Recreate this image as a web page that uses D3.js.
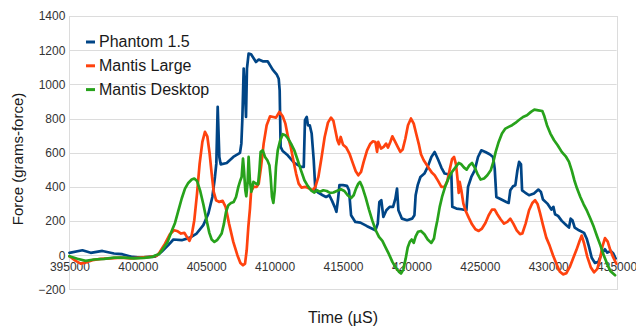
<!DOCTYPE html>
<html>
<head>
<meta charset="utf-8">
<script src="https://cdn.jsdelivr.net/npm/d3@7"></script>
<style>
  body { margin: 0; background: #fff; }
  svg { display: block; font-family: "Liberation Sans", Arial, sans-serif; }
</style>
</head>
<body>
<div id="rootDiv"></div>
<script>
// time (uS), force (grams-force)
const phantom = [
  [395000,14],[395950,29],[396560,14],[397410,25],[398260,10],[398870,6],[399600,-10],[400210,-14],[400820,-10],[401260,-8],
  [401550,8],[401740,20],[402230,59],[402600,92],[403210,88],[403820,103],[404300,127],[404790,176],[405160,244],[405450,341],
  [405640,458],[405740,536],[405840,868],[405960,575],[406060,532],[406500,540],[406980,575],[407470,599],[407570,653],[407640,790],
  [407740,1092],[407840,946],[407910,809],[407980,1092],[408100,1180],[408280,1176],[408640,1131],[408840,1145],[409130,1135],[409490,1135],
  [409860,1086],[410150,1059],[410300,1033],[410370,965],[410440,634],[410590,610],[410960,585],[411440,540],[411930,517],[412130,517],
  [412220,790],[412350,809],[412440,760],[412570,760],[412710,712],[412860,556],[412980,380],[413220,365],[413520,351],[413760,341],
  [414000,351],[414200,318],[414390,283],[414520,254],[414640,330],[414740,410],[415000,410],[415290,406],[415440,380],[415590,234],
  [415900,195],[416270,191],[416760,170],[417370,146],[417540,185],[417660,312],[417800,322],[417950,224],[418170,263],[418410,283],
  [418660,283],[418830,331],[418950,390],[419050,263],[419310,214],[419680,205],[420050,214],[420220,234],[420310,351],[420460,410],
  [420660,458],[420950,478],[421190,517],[421460,575],[421700,604],[421950,560],[422190,513],[422430,478],[422680,474],[422920,478],
  [422990,283],[423290,273],[423650,269],[424020,263],[424140,400],[424380,458],[424630,497],[424870,575],[425110,614],[425410,604],
  [425720,591],[425970,575],[426090,507],[426210,341],[426580,326],[426940,312],[427110,306],[427230,380],[427430,404],[427600,410],
  [427750,497],[427870,546],[428010,532],[428090,380],[428310,367],[428600,351],[428960,361],[429280,384],[429470,370],[429620,326],
  [429940,302],[430230,267],[430380,283],[430500,240],[430720,230],[430990,201],[431330,175],[431520,162],[431640,214],[431770,205],
  [431940,162],[432250,146],[432620,131],[432810,98],[432980,50],[433180,-15],[433420,-45],[433660,-40],[433910,10],[434150,35],
  [434320,15],[434570,25],[434760,10],[434930,-20]
];
const mantisLarge = [
  [395000,-6],[395460,-33],[395820,-49],[396190,-43],[396680,-29],[397290,-21],[398020,-18],[398750,-14],[399480,-18],[400210,-14],
  [400820,-10],[401260,-6],[401430,0],[401620,20],[401990,68],[402350,123],[402650,146],[402920,140],[403160,127],[403400,131],
  [403620,103],[403770,84],[403940,117],[404130,205],[404330,361],[404520,536],[404720,663],[404910,722],[405080,696],[405250,595],
  [405400,478],[405550,371],[405720,322],[405940,312],[406200,318],[406420,283],[406670,185],[406980,78],[407280,0],[407500,-45],
  [407690,-59],[407840,-49],[407960,29],[408080,166],[408200,273],[408280,371],[408450,400],[408690,400],[408840,419],[409010,517],
  [409200,653],[409420,761],[409670,813],[409910,809],[410100,805],[410350,839],[410590,813],[410790,770],[410980,692],[411180,634],
  [411370,556],[411570,478],[411760,419],[411960,396],[412250,400],[412540,390],[412780,380],[412980,400],[413200,458],[413420,566],
  [413660,692],[413900,776],[414120,805],[414300,786],[414440,731],[414590,673],[414710,650],[414830,692],[415000,647],[415240,630],
  [415490,591],[415730,536],[415930,491],[416120,468],[416320,488],[416510,546],[416760,614],[417000,653],[417190,667],[417370,663],
  [417490,605],[417580,663],[417780,624],[417970,634],[418150,653],[418290,630],[418460,663],[418610,696],[418780,669],[419000,634],
  [419190,605],[419360,618],[419560,683],[419750,761],[419970,800],[420170,770],[420360,708],[420560,644],[420700,591],[420900,556],
  [421090,532],[421290,507],[421510,482],[421700,468],[421950,435],[422190,400],[422430,400],[422630,435],[422800,501],[422970,562],
  [423120,575],[423260,532],[423380,439],[423460,365],[423530,429],[423650,380],[423800,302],[423970,259],[424190,220],[424430,181],
  [424680,152],[424920,142],[425160,156],[425410,189],[425650,234],[425890,267],[426090,267],[426280,240],[426530,209],[426770,185],
  [427010,195],[427230,214],[427450,185],[427700,146],[427940,123],[428110,127],[428350,185],[428600,263],[428840,306],[429040,322],
  [429230,298],[429400,248],[429620,176],[429860,103],[430110,55],[430350,0],[430600,-50],[430840,-95],[431080,-112],[431330,-105],
  [431570,-70],[431810,-20],[432060,30],[432300,85],[432450,115],[432620,70],[432860,-10],[433110,-70],[433350,-100],[433590,-80],
  [433790,-20],[433960,50],[434150,100],[434350,80],[434540,30],[434740,-10],[434980,-50]
];
const mantisDesktop = [
  [395000,-6],[395580,-21],[396190,-33],[396800,-25],[397530,-21],[398260,-14],[398990,-14],[399720,-18],[400450,-16],[401060,-10],
  [401260,-2],[401550,6],[401740,25],[402180,78],[402480,142],[402720,189],[402960,259],[403210,332],[403450,390],[403690,423],
  [403940,443],[404130,449],[404330,435],[404550,380],[404790,298],[405030,205],[405230,131],[405400,92],[405600,78],[405790,88],
  [405960,107],[406130,127],[406300,185],[406450,254],[406620,293],[406810,306],[407010,312],[407180,341],[407350,400],[407500,439],
  [407590,458],[407690,566],[407760,500],[407860,380],[407930,345],[408030,430],[408100,575],[408200,430],[408300,371],[408450,429],
  [408640,419],[408790,415],[408890,497],[408980,605],[409130,614],[409300,575],[409470,556],[409620,527],[409710,458],[409810,341],
  [409910,306],[410010,380],[410100,517],[410230,614],[410400,669],[410590,708],[410790,702],[410980,683],[411200,653],[411440,614],
  [411690,556],[411930,497],[412180,439],[412420,406],[412660,380],[412910,367],[413100,380],[413320,371],[413560,380],[413810,376],
  [414050,365],[414300,367],[414540,376],[414850,386],[415100,376],[415340,351],[415590,335],[415780,351],[415950,390],[416120,419],
  [416240,429],[416410,400],[416660,337],[416900,267],[417150,201],[417390,146],[417630,107],[417880,84],[418120,45],[418360,6],
  [418610,-39],[418850,-72],[419100,-98],[419240,-107],[419410,-84],[419580,-20],[419730,45],[419880,78],[420020,92],[420170,72],
  [420310,111],[420480,137],[420700,142],[420950,123],[421190,92],[421460,72],[421650,98],[421750,146],[421900,205],[422070,283],
  [422240,341],[422480,404],[422730,454],[422970,488],[423210,513],[423460,540],[423650,532],[423850,513],[424040,501],[424240,527],
  [424430,540],[424630,513],[424820,478],[425060,443],[425310,449],[425550,468],[425800,497],[425990,546],[426160,605],[426380,663],
  [426620,712],[426870,741],[427110,751],[427360,761],[427600,774],[427840,790],[428160,809],[428450,819],[428740,839],[428990,852],
  [429280,848],[429570,844],[429720,813],[429910,761],[430160,712],[430430,673],[430690,644],[430990,605],[431280,579],[431520,546],
  [431720,497],[431910,439],[432110,390],[432350,341],[432590,298],[432840,259],[433080,215],[433330,166],[433570,111],[433810,59],
  [434060,0],[434300,-49],[434540,-92],[434890,-117]
];

const seriesNames = ["Phantom 1.5", "Mantis Large", "Mantis Desktop"];
const seriesData = [phantom, mantisLarge, mantisDesktop];
const colors = ["#004586", "#ff420e", "#27a21b"];
const xTicks = [395000, 400000, 405000, 410000, 415000, 420000, 425000, 430000, 435000];
const yTicks = [-200, 0, 200, 400, 600, 800, 1000, 1200, 1400];

const W = 636, H = 329;
const plot = { left: 69.4, right: 616.6, top: 16, bottom: 289.4 };

const x = d3.scaleLinear().domain([395000, 435000]).range([plot.left, plot.right]);
const y = d3.scaleLinear().domain([-200, 1400]).range([plot.bottom, plot.top]);

const svg = d3.select("#rootDiv").append("svg")
    .attr("width", W)
    .attr("height", H);

// grid
svg.append("g")
    .selectAll("line")
    .data(yTicks)
    .enter()
    .append("line")
    .attr("x1", plot.left)
    .attr("x2", plot.right)
    .attr("y1", d => Math.round(y(d)) + 0.5)
    .attr("y2", d => Math.round(y(d)) + 0.5)
    .attr("stroke", "#dcdcdc")
    .attr("stroke-width", 1);

svg.append("rect")
    .attr("x", Math.round(plot.left) + 0.5)
    .attr("y", Math.round(plot.top) + 0.5)
    .attr("width", Math.round(plot.right) - Math.round(plot.left))
    .attr("height", Math.round(plot.bottom) - Math.round(plot.top))
    .attr("fill", "none")
    .attr("stroke", "#dcdcdc");

// y axis labels
const yAxis = svg.append("g")
    .attr("transform", `translate(${plot.left},0)`)
    .call(d3.axisLeft(y).tickValues(yTicks).tickSize(0).tickPadding(4).tickFormat(d3.format("d")));

// x axis labels, hanging from the zero line
const xAxis = svg.append("g")
    .attr("transform", `translate(0,${y(0)})`)
    .call(d3.axisBottom(x).tickValues(xTicks).tickSize(0).tickPadding(7).tickFormat(d3.format("d")));

for (const axis of [xAxis, yAxis]) {
    axis.select(".domain").remove();
    axis.selectAll("text")
        .style("font-family", "Liberation Sans, Arial, sans-serif")
        .style("font-size", "12px")
        .style("fill", "#333");
}

// lines
const line = d3.line()
    .x(d => x(d[0]))
    .y(d => y(d[1]));

svg.append("g")
    .selectAll("path")
    .data(seriesData)
    .enter()
    .append("path")
    .attr("d", line)
    .attr("fill", "none")
    .attr("stroke", (d, i) => colors[i])
    .attr("stroke-width", 2.7)
    .attr("stroke-linejoin", "round")
    .attr("stroke-linecap", "round");

// legend
const legend = svg.selectAll(".legend")
    .data(seriesNames)
    .enter()
    .append("g")
    .attr("class", "legend")
    .attr("transform", (d, i) => `translate(86,${42 + i * 23.8})`);

legend.append("line")
    .attr("x1", 0)
    .attr("x2", 9)
    .attr("stroke", (d, i) => colors[i])
    .attr("stroke-width", 3);

legend.append("text")
    .attr("x", 13)
    .attr("y", 5)
    .attr("font-size", "16px")
    .attr("fill", "#1a1a1a")
    .text(d => d);

// axis titles
svg.append("text")
    .attr("x", (plot.left + plot.right) / 2)
    .attr("y", 323)
    .attr("text-anchor", "middle")
    .attr("font-size", "16px")
    .attr("fill", "#1a1a1a")
    .text("Time (µS)");

svg.append("text")
    .attr("transform", `translate(23,159) rotate(-90)`)
    .attr("text-anchor", "middle")
    .attr("font-size", "15px")
    .attr("fill", "#1a1a1a")
    .text("Force (grams-force)");
</script>
</body>
</html>
